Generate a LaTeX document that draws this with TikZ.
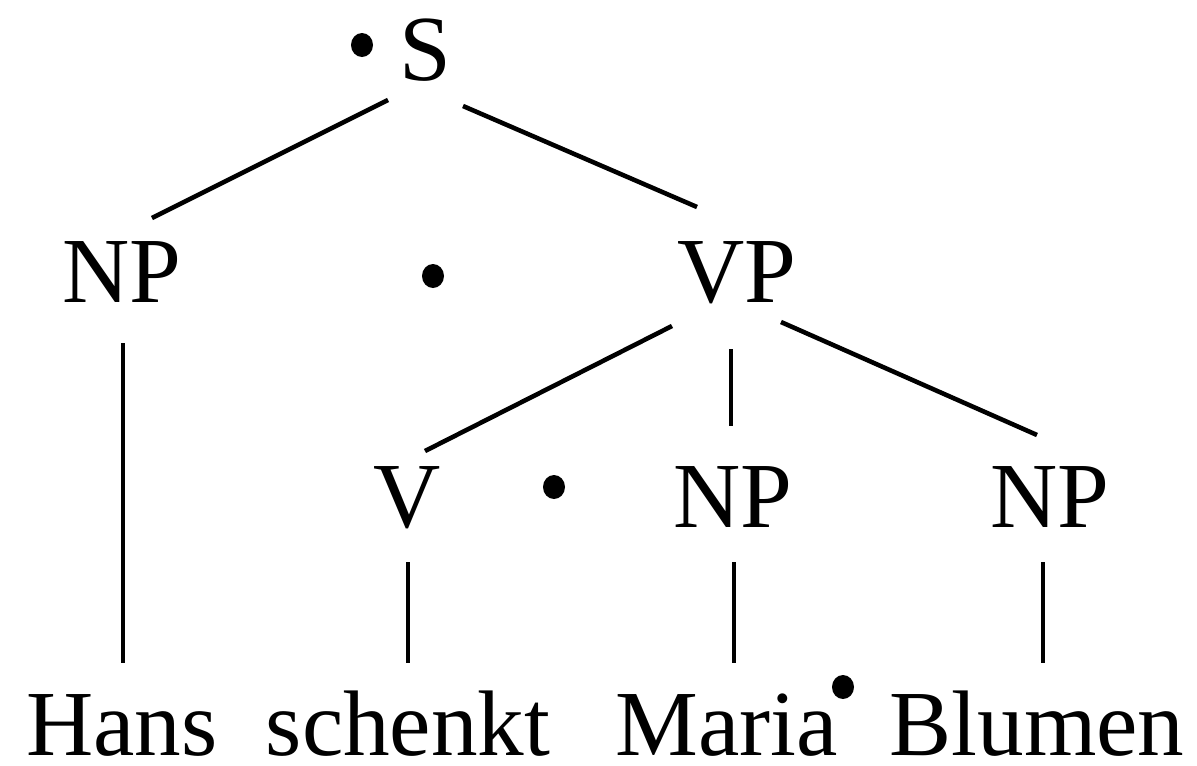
\documentclass[tikz,border=0pt]{standalone}
\usepackage{fontspec}
\setmainfont{Liberation Serif}
\begin{document}
\begin{tikzpicture}[x=0.02cm,y=-0.02cm,
  lbl/.style={anchor=base,inner sep=0pt,font=\fontsize{53}{60}\selectfont},
  edge/.style={line width=2.6pt},
  blob/.style={fill=black,draw=none}]
\useasboundingbox (0,0) rectangle (1197,765);
% category labels
\node[lbl] (S) at (425,80) {S};
\node[lbl] (NP1) at (122,302) {NP};
\node[lbl] (VP) at (737,302) {VP};
\node[lbl] (V) at (407,527) {V};
\node[lbl] (NP2) at (733,527) {NP};
\node[lbl] (NP3) at (1050,527) {NP};
% words
\node[lbl] (w1) at (122,755) {Hans};
\node[lbl] (w2) at (408,755) {schenkt};
\node[lbl] (w3) at (727,755) {Maria};
\node[lbl] (w4) at (1037,755) {Blumen};
% edge end points
\coordinate (s1) at (388,100);  \coordinate (np1t) at (152,218);
\coordinate (s2) at (463,106);  \coordinate (vpt) at (697,207);
\coordinate (np1b) at (123,343); \coordinate (w1t) at (123,663);
\coordinate (vp1) at (672,326); \coordinate (vt) at (425,451);
\coordinate (vp2) at (731,349); \coordinate (np2t) at (731,426);
\coordinate (vp3) at (781,322); \coordinate (np3t) at (1037,435);
\coordinate (vb) at (408,562);  \coordinate (w2t) at (408,663);
\coordinate (np2b) at (734,562); \coordinate (w3t) at (734,663);
\coordinate (np3b) at (1043,562); \coordinate (w4t) at (1043,663);
% branches
\draw[edge] (s1) -- (np1t);
\draw[edge] (s2) -- (vpt);
\draw[edge] (np1b) -- (w1t);
\draw[edge] (vp1) -- (vt);
\draw[edge] (vp2) -- (np2t);
\draw[edge] (vp3) -- (np3t);
\draw[edge] (vb) -- (w2t);
\draw[edge] (np2b) -- (w3t);
\draw[edge] (np3b) -- (w4t);
% dots
\fill[blob] (362,45) ellipse [x radius=11, y radius=12];
\fill[blob] (433,276) ellipse [x radius=11, y radius=12];
\fill[blob] (554,487) ellipse [x radius=11, y radius=12];
\fill[blob] (843,687) ellipse [x radius=11, y radius=12];
\end{tikzpicture}
\end{document}
